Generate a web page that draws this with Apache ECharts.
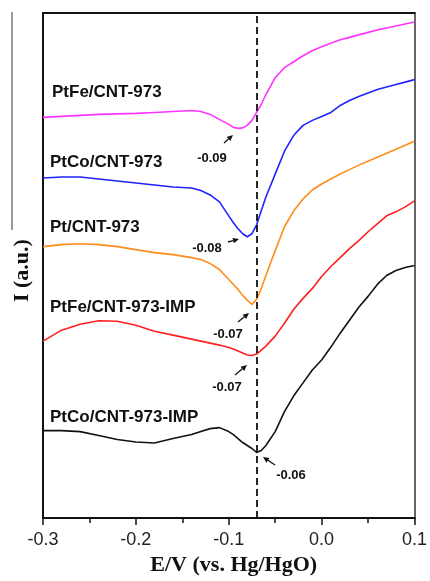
<!DOCTYPE html>
<html>
<head>
<meta charset="utf-8">
<script src="https://cdn.jsdelivr.net/npm/echarts@6/dist/echarts.min.js"></script>
<style>html,body{margin:0;padding:0;background:#fff;}#c{width:430px;height:581px;}</style>
</head>
<body>
<div id="c"></div>
<script>
// Potential grid (E/V vs. Hg/HgO)
const E = [-0.30,-0.28,-0.26,-0.24,-0.22,-0.20,-0.18,-0.16,-0.14,-0.13,-0.12,-0.11,-0.10,-0.095,-0.09,-0.085,-0.08,-0.075,-0.07,-0.065,-0.06,-0.05,-0.04,-0.03,-0.02,-0.01,0.00,0.01,0.02,0.03,0.04,0.05,0.06,0.07,0.08,0.09,0.10];
// Intensities (a.u., stacked with offsets as in the figure)
const ptFeCNT = [403,404,405,406,406.5,407,408,409,410,409,406,401,396,393,392,392.5,395,400,408,416,426,443,453,459,465,470,474,477.5,481,483.5,486,488.5,491,493,495,497,499];
const ptCoCNT = [342,343,343,341,339,337,335,333,332,329.5,325,318,304,297,291,286,283,286,295,309,323,346,369,385,395,400,404,408,415,420,424,427.5,431,433.5,436,438.5,441];
const ptCNT   = [273,275,276,275,273,270,267,265,262,260,256,250,240,235,230,224,219,215,220,231,244,269,293,309,321,330,336,341,346,350.5,355,359,363,367,371,375,379];
const ptFeIMP = [178,189,195,198.5,198,194,188,184,180,178,176,174,171.5,170,168,166,164,163.5,165,169,173,183,196,210,221,231,243,253,262,271,279,288,296,304,308,313,319];
const ptCoIMP = [88,88,87,83,79,76.5,75.5,80,84,87,90,91,87,84,80,76,73,70,66,68,73,87,107,123,136,149,159,172,186,199,212,223,235,244,249,252,254];

const seriesNames = ['PtFe/CNT-973','PtCo/CNT-973','Pt/CNT-973','PtFe/CNT-973-IMP','PtCo/CNT-973-IMP'];
const seriesData = [ptFeCNT, ptCoCNT, ptCNT, ptFeIMP, ptCoIMP];
const seriesColors = ['#ff33ff','#2222ff','#ff8c1a','#ff2020','#111111'];
// peak potentials annotated
const peakLabels = ['-0.09','-0.08','-0.07','-0.07','-0.06'];
const dashedE = -0.075;
const xTicks = [-0.3,-0.2,-0.1,0.0,0.1];

// label placement (pixels)
const nameLabelPos = [[52,92],[50,162],[50,227],[50,307],[50,417]];
const peakTextPos = [[212,158],[207,248],[228,334],[227,387],[291,475]];
const arrowPos = [[[224,143],[233,135]],[[228,242],[239,239]],[[238,322],[249,313]],[[235,375],[247,365]],[[275,465],[263,457]]];

const chart = echarts.init(document.getElementById('c'), null, {renderer:'canvas'});

const series = seriesData.map((d, i) => ({
  name: seriesNames[i],
  type: 'line',
  data: d.map((v, k) => [E[k], v]),
  showSymbol: false,
  smooth: false,
  lineStyle: {color: seriesColors[i], width: 1.6, join: 'round'},
  itemStyle: {color: seriesColors[i]},
  z: 3
}));
series[0].markLine = {
  silent: true,
  symbol: ['none','none'],
  label: {show: false},
  lineStyle: {color: '#111', type: [7,4], width: 1.8},
  data: [{xAxis: dashedE}]
};

const graphics = [];
// stray frame line at far left
graphics.push({type:'line', shape:{x1:12,y1:12,x2:12,y2:230}, style:{stroke:'#777', lineWidth:1.5}});
nameLabelPos.forEach((p, i) => {
  graphics.push({type:'text', x:p[0], y:p[1], style:{text:seriesNames[i], font:'bold 17px "Liberation Sans", Arial, sans-serif', fill:'#111', textVerticalAlign:'middle', textAlign:'left'}});
});
peakTextPos.forEach((p, i) => {
  graphics.push({type:'text', x:p[0], y:p[1], style:{text:peakLabels[i], font:'bold 13px "Liberation Sans", Arial, sans-serif', fill:'#111', textVerticalAlign:'middle', textAlign:'center'}});
});
arrowPos.forEach(a => {
  const [p0, p1] = a;
  const dx = p1[0]-p0[0], dy = p1[1]-p0[1];
  const L = Math.sqrt(dx*dx+dy*dy);
  const ux = dx/L, uy = dy/L;
  const hl = 6, hw = 2.8;
  const bx = p1[0]-ux*hl, by = p1[1]-uy*hl;
  graphics.push({type:'line', shape:{x1:p0[0],y1:p0[1],x2:bx,y2:by}, style:{stroke:'#111', lineWidth:1.3}});
  graphics.push({type:'polygon', shape:{points:[[p1[0],p1[1]],[bx-uy*hw,by+ux*hw],[bx+uy*hw,by-ux*hw]]}, style:{fill:'#111'}});
});

chart.setOption({
  animation: false,
  backgroundColor: '#fff',
  grid: {left: 43, right: 12, top: 13, bottom: 60, containLabel: false},
  xAxis: [{
    type: 'value', min: -0.3, max: 0.1, interval: 0.1,
    axisLine: {show: true, onZero: false, lineStyle: {color: '#111', width: 2}},
    axisTick: {show: true, length: 7, inside: false, lineStyle: {color: '#111', width: 1.5}},
    minorTick: {show: true, splitNumber: 2, length: 5, lineStyle: {color: '#111', width: 1.5}},
    splitLine: {show: false},
    axisLabel: {
      margin: 13, color: '#222', fontSize: 18, fontFamily: '"Liberation Sans", Arial, sans-serif',
      customValues: xTicks,
      formatter: v => (Math.abs(v) < 1e-9 ? '0.0' : v.toFixed(1))
    },
    name: 'E/V (vs. Hg/HgO)', nameLocation: 'middle', nameGap: 35,
    nameTextStyle: {fontFamily: '"Liberation Serif", "Times New Roman", serif', fontWeight: 'bold', fontSize: 22, color: '#111', padding: [0,0,0,10]}
  }, {
    type: 'value', min: -0.3, max: 0.1, position: 'top',
    axisLine: {show: true, onZero: false, lineStyle: {color: '#111', width: 2}},
    axisTick: {show: false}, axisLabel: {show: false}, splitLine: {show: false}
  }],
  yAxis: [{
    type: 'value', min: 0, max: 508,
    axisLine: {show: true, onZero: false, lineStyle: {color: '#111', width: 2}},
    axisTick: {show: false}, axisLabel: {show: false}, splitLine: {show: false},
    name: 'I (a.u.)', nameLocation: 'middle', nameGap: 10, nameRotate: 90,
    nameTextStyle: {fontFamily: '"Liberation Serif", "Times New Roman", serif', fontWeight: 'bold', fontSize: 22, color: '#111', padding: [0,10,0,0]}
  }, {
    type: 'value', min: 0, max: 508, position: 'right',
    axisLine: {show: true, onZero: false, lineStyle: {color: '#666', width: 2}},
    axisTick: {show: false}, axisLabel: {show: false}, splitLine: {show: false}
  }],
  series: series,
  graphic: graphics
});
</script>
</body>
</html>
